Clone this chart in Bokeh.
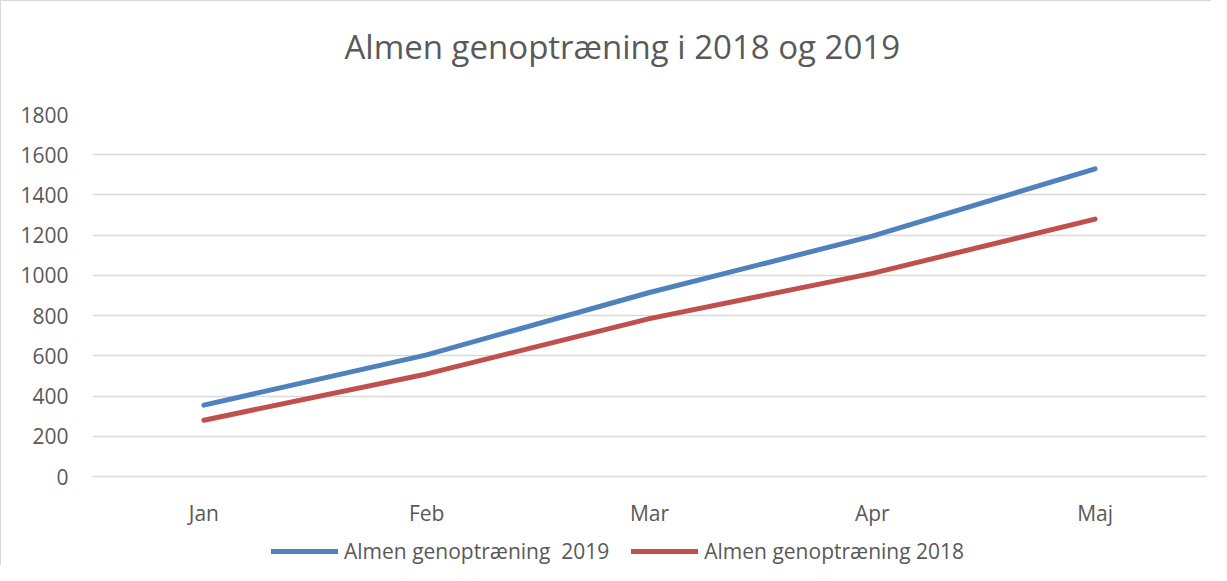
from bokeh.plotting import figure
from bokeh.layouts import column
from bokeh.models import FactorRange, Range1d, Legend, LegendItem, FixedTicker, ColumnDataSource, Title
from bokeh.embed import file_html
from bokeh.resources import INLINE

months = ["Jan", "Feb", "Mar", "Apr", "Maj"]
values_2019 = [355, 605, 915, 1195, 1530]
values_2018 = [280, 510, 785, 1010, 1280]
y_ticks = [0, 200, 400, 600, 800, 1000, 1200, 1400, 1600, 1800]
series_names = ["Almen genoptræning  2019", "Almen genoptræning 2018"]
title_text = "Almen genoptræning i 2018 og 2019"

FONT = "Open Sans"
TXT = "#595959"
GRID = "#d9d9d9"
BLUE = "#4F81BD"
RED = "#C0504D"

p = figure(width=1211, height=530, x_range=FactorRange(factors=months),
           y_range=Range1d(0, 1800), output_backend="svg", toolbar_location=None,
           title=None)
p.min_border_left = 91
p.min_border_right = 6
p.min_border_top = 113
p.min_border_bottom = 55
p.styles = {"border-left": "1px solid #d9d9d9", "border-top": "1px solid #d9d9d9"}
p.outline_line_color = None
p.background_fill_color = "white"
p.border_fill_color = "white"

# spacer between title and plot area (added first -> nearest the frame)
p.add_layout(Title(text=" ", text_font_size="10px", standoff=30), "above")
p.add_layout(Title(text=title_text, align="left", offset=252, standoff=6,
                   text_font=FONT, text_font_size="33px", text_font_style="normal",
                   text_color=TXT), "above")

src = ColumnDataSource(dict(m=months, a=values_2019, b=values_2018))
p.line("m", "a", source=src, line_color=BLUE, line_width=5, line_cap="round", line_join="round")
p.line("m", "b", source=src, line_color=RED, line_width=5, line_cap="round", line_join="round")

p.xgrid.grid_line_color = None
p.ygrid.grid_line_color = GRID
p.ygrid.grid_line_width = 1.5
p.yaxis.ticker = FixedTicker(ticks=y_ticks)

for ax in (p.xaxis[0], p.yaxis[0]):
    ax.axis_line_color = None
    ax.major_tick_line_color = None
    ax.minor_tick_line_color = None
    ax.major_label_text_font = FONT
    ax.major_label_text_font_size = "21px"
    ax.major_label_text_color = TXT
p.xaxis.axis_line_color = GRID
p.xaxis.axis_line_width = 1.5
p.yaxis.major_label_standoff = 18
p.xaxis.major_label_standoff = 16

# legend strip below the chart
lg = figure(width=1211, height=35, x_range=Range1d(0, 1), y_range=Range1d(0, 1),
            output_backend="svg", toolbar_location=None,
            x_axis_location=None, y_axis_location=None)
lg.min_border_left = 0
lg.min_border_right = 0
lg.min_border_top = 0
lg.min_border_bottom = 0
lg.outline_line_color = None
lg.grid.visible = False
lg.styles = {"border-left": "1px solid #d9d9d9"}
hidden = ColumnDataSource(dict(x=[5, 6], y=[5, 5]))
l1 = lg.line("x", "y", source=hidden, line_color=BLUE, line_width=5, line_cap="round")
l2 = lg.line("x", "y", source=hidden, line_color=RED, line_width=5, line_cap="round")

legend = Legend(items=[LegendItem(label=series_names[0], renderers=[l1]),
                       LegendItem(label=series_names[1], renderers=[l2])],
                orientation="horizontal", location=(179, 0),
                glyph_width=67, glyph_height=20, label_standoff=6, spacing=22,
                padding=3, margin=0,
                label_text_font=FONT, label_text_font_size="21px", label_text_color=TXT,
                border_line_color=None, background_fill_alpha=0)
lg.add_layout(legend, "center")

layout = column(p, lg, spacing=0)
open("out.html", "w").write(file_html(layout, INLINE))
